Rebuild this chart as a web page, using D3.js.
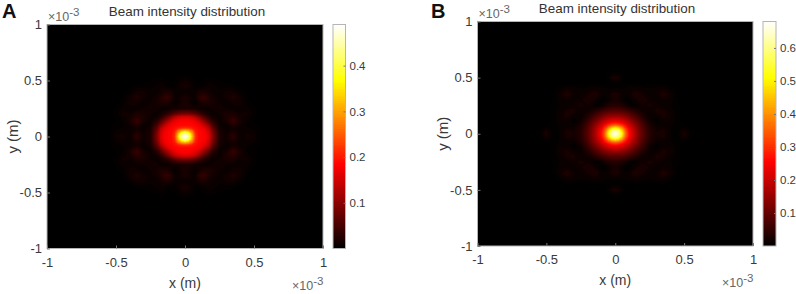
<!DOCTYPE html>
<html>
<head>
<meta charset="utf-8">
<script src="https://cdnjs.cloudflare.com/ajax/libs/d3/7.8.5/d3.min.js"></script>
<style>
  html, body { margin: 0; padding: 0; background: #fff; }
  svg { display: block; font-family: "Liberation Sans", Arial, sans-serif; }
  .domain { display: none; }
</style>
</head>
<body>
<svg id="chart" width="796" height="294"></svg>
<script>
var gridCoords = [0, 0.025, 0.05, 0.075, 0.1, 0.125, 0.15, 0.175, 0.2, 0.25, 0.3, 0.35, 0.4, 0.45, 0.5, 0.55];

var beamA = [
  [.49, .45, .33, .22, .19, .186, .18, .155, .10, .022, .012, .034, .008, .014, .012, .002],
  [.45, .41, .31, .215, .19, .186, .178, .152, .098, .022, .012, .03, .008, .013, .01, .002],
  [.33, .31, .27, .205, .19, .184, .172, .145, .09, .02, .01, .018, .008, .01, .008, .002],
  [.22, .215, .205, .195, .185, .176, .158, .128, .075, .017, .008, .016, .009, .008, .006, .002],
  [.19, .19, .19, .185, .178, .16, .135, .1, .058, .013, .008, .026, .012, .006, .004, .002],
  [.186, .186, .184, .176, .16, .135, .105, .072, .04, .01, .016, .04, .018, .006, .003, .001],
  [.18, .178, .172, .158, .135, .105, .078, .05, .027, .009, .02, .04, .018, .008, .003, .001],
  [.155, .152, .145, .128, .1, .072, .05, .03, .016, .009, .022, .03, .014, .01, .004, .001],
  [.09, .088, .082, .07, .055, .038, .026, .016, .01, .012, .02, .022, .012, .014, .005, .001],
  [.02, .02, .018, .015, .012, .009, .009, .01, .013, .016, .012, .01, .01, .01, .004, .001],
  [.022, .016, .008, .006, .013, .02, .024, .022, .018, .012, .007, .014, .014, .005, .002, .001],
  [.02, .016, .012, .012, .03, .04, .036, .024, .016, .01, .014, .024, .014, .003, .001, .001],
  [.008, .008, .008, .01, .018, .02, .018, .013, .01, .009, .013, .014, .006, .002, .001, .001],
  [.018, .016, .01, .004, .004, .006, .01, .012, .01, .005, .005, .004, .002, .001, .001, .001],
  [.012, .01, .006, .003, .002, .003, .005, .006, .004, .003, .002, .001, .001, .001, .001, .001],
  [.002, .002, .002, .001, .001, .001, .001, .001, .001, .001, .001, .001, .001, .001, .001, .001]
];

var beamB = [
  [.68, .63, .50, .36, .27, .215, .165, .125, .09, .04, .022, .026, .01, .004, .028, .004],
  [.63, .59, .47, .345, .262, .21, .162, .122, .088, .039, .021, .025, .01, .004, .024, .003],
  [.50, .47, .40, .31, .24, .197, .155, .117, .083, .036, .018, .02, .01, .004, .012, .002],
  [.36, .345, .31, .26, .21, .175, .14, .106, .075, .03, .012, .013, .011, .003, .003, .001],
  [.27, .262, .24, .21, .18, .15, .12, .092, .064, .022, .007, .012, .014, .004, .002, .001],
  [.215, .21, .197, .175, .15, .125, .1, .076, .052, .015, .005, .018, .016, .004, .001, .001],
  [.165, .162, .155, .14, .12, .1, .08, .059, .04, .012, .012, .024, .018, .005, .001, .001],
  [.125, .122, .117, .106, .092, .076, .059, .043, .028, .012, .02, .024, .018, .005, .001, .001],
  [.09, .088, .083, .075, .064, .052, .04, .028, .019, .015, .024, .024, .014, .005, .001, .001],
  [.042, .04, .034, .025, .012, .007, .007, .013, .02, .024, .02, .014, .01, .004, .001, .001],
  [.024, .02, .012, .005, .005, .012, .02, .026, .028, .02, .012, .016, .014, .003, .001, .001],
  [.03, .026, .016, .01, .012, .026, .03, .028, .022, .014, .016, .034, .018, .003, .001, .001],
  [.01, .01, .009, .011, .014, .017, .017, .014, .012, .01, .014, .018, .008, .002, .001, .001],
  [.006, .005, .003, .002, .002, .002, .003, .003, .002, .002, .002, .002, .001, .001, .001, .001],
  [.03, .024, .01, .002, .001, .001, .001, .001, .001, .001, .001, .001, .001, .001, .001, .001],
  [.003, .002, .002, .001, .001, .001, .001, .001, .001, .001, .001, .001, .001, .001, .001, .001]
];

var axisTicks = [-1, -0.5, 0, 0.5, 1];
var colorTicksA = [0.1, 0.2, 0.3, 0.4];
var colorTicksB = [0.1, 0.2, 0.3, 0.4, 0.5, 0.6];
var maxA = 0.49;
var maxB = 0.68;

var svg = d3.select("#chart");

// the quadrant mirrored into the full image, flat for d3.contours
function mirror(rows) {
  var n = rows.length;
  var flat = [];
  for (var j = -n + 1; j < n; j++) {
    for (var i = -n + 1; i < n; i++) {
      flat.push(rows[Math.abs(j)][Math.abs(i)]);
    }
  }
  return flat;
}

function drawPanel(p) {
  var g = svg.append("g");
  var x = d3.scaleLinear().domain([-1, 1]).range([p.left, p.right]);
  var y = d3.scaleLinear().domain([-1, 1]).range([p.bottom, p.top]);
  var n = gridCoords.length;

  // matlab "hot" colormap
  var hot = d3.scaleLinear()
    .domain([0, p.max * 0.375, p.max * 0.75, p.max])
    .range(["#000000", "#ff0000", "#ffff00", "#ffffff"])
    .clamp(true);

  g.append("rect")
    .attr("x", p.left).attr("y", p.top)
    .attr("width", p.right - p.left).attr("height", p.bottom - p.top)
    .attr("fill", "#000");

  // grid index -> position in data units (the grid is finer near the centre)
  var coords = gridCoords.slice(1).reverse().map(function(d) { return -d; }).concat(gridCoords);
  var indexToData = d3.scaleLinear().domain(d3.range(coords.length)).range(coords);

  var path = d3.geoPath(d3.geoTransform({
    point: function(a, b) {
      this.stream.point(x(indexToData(a - 0.5)), y(indexToData(b - 0.5)));
    }
  }));

  var levels = d3.range(0.003, p.max, p.max / 110);
  var contours = d3.contours()
    .size([2 * n - 1, 2 * n - 1])
    .thresholds(levels)(mirror(p.values));

  g.append("g").selectAll("path")
    .data(contours)
    .join("path")
    .attr("d", path)
    .attr("fill", function(d) { return hot(d.value); });

  // frame + ticks
  g.append("rect")
    .attr("x", p.left).attr("y", p.top)
    .attr("width", p.right - p.left).attr("height", p.bottom - p.top)
    .attr("fill", "none").attr("stroke", "#b5b5b5").attr("stroke-width", 1);

  var fmt = function(d) { return String(d); };
  var xAxis = g.append("g")
    .attr("transform", "translate(0," + p.bottom + ")")
    .call(d3.axisBottom(x).tickValues(axisTicks).tickFormat(fmt).tickSize(-3).tickPadding(9));
  var yAxis = g.append("g")
    .attr("transform", "translate(" + p.left + ",0)")
    .call(d3.axisLeft(y).tickValues(axisTicks).tickFormat(fmt).tickSize(-3).tickPadding(5));
  [xAxis, yAxis].forEach(function(a) {
    a.attr("font-family", null);
    a.selectAll("text").attr("font-size", 13).attr("fill", "#3a3a3a");
    a.selectAll("line").attr("stroke", "#777");
  });

  g.append("text")
    .attr("x", p.titleX).attr("y", p.titleY)
    .attr("text-anchor", "middle").attr("font-size", 13.4).attr("fill", "#333")
    .text("Beam intensity distribution");

  g.append("text")
    .attr("x", p.labelX).attr("y", p.labelY)
    .attr("font-size", 20).attr("font-weight", "bold").attr("fill", "#111")
    .text(p.label);

  g.append("text")
    .attr("x", (p.left + p.right) / 2).attr("y", p.bottom + 39)
    .attr("text-anchor", "middle").attr("font-size", 14).attr("fill", "#3a3a3a")
    .text("x (m)");

  g.append("text")
    .attr("transform", "translate(" + p.yLabelX + "," + (y(0)) + ") rotate(-90)")
    .attr("text-anchor", "middle").attr("font-size", 15).attr("fill", "#3a3a3a")
    .text("y (m)");

  // x10^-3 multipliers
  function multiplier(tx, ty) {
    var t = g.append("text").attr("x", tx).attr("y", ty)
      .attr("font-size", 12.5).attr("fill", "#666");
    t.append("tspan").text("\u00d710");
    t.append("tspan").attr("dy", -5).attr("font-size", 11.5).text("-3");
  }
  multiplier(p.left + 1, p.top - 4);
  multiplier(p.right - 31, p.bottom + 41);

  // colorbar
  var cy = d3.scaleLinear().domain([0, p.max]).range([p.bottom, p.top]);
  var step = p.max / 128;
  g.append("g").selectAll("rect")
    .data(d3.range(0, p.max, step))
    .join("rect")
    .attr("x", p.barLeft)
    .attr("width", p.barRight - p.barLeft)
    .attr("y", function(d) { return cy(d + step); })
    .attr("height", function(d) { return Math.min(cy(d) + 1, p.bottom) - cy(d + step); })
    .attr("shape-rendering", "crispEdges")
    .attr("fill", function(d) { return hot(d); });

  g.append("rect")
    .attr("x", p.barLeft).attr("y", p.top)
    .attr("width", p.barRight - p.barLeft).attr("height", p.bottom - p.top)
    .attr("fill", "none").attr("stroke", "#b5b5b5").attr("stroke-width", 1);

  var cAxis = g.append("g")
    .attr("transform", "translate(" + p.barRight + ",0)")
    .call(d3.axisRight(cy).tickValues(p.colorTicks).tickFormat(fmt).tickSize(-2).tickPadding(4));
  cAxis.attr("font-family", null);
  cAxis.selectAll("text").attr("font-size", 11.5).attr("fill", "#3a3a3a");
  cAxis.selectAll("line").attr("stroke", "#777");
}

drawPanel({
  values: beamA, max: maxA, colorTicks: colorTicksA, label: "A",
  left: 47, right: 323, top: 24.5, bottom: 248.5,
  barLeft: 333, barRight: 345.5,
  titleX: 187, titleY: 16, labelX: 2, labelY: 18, yLabelX: 18
});

drawPanel({
  values: beamB, max: maxB, colorTicks: colorTicksB, label: "B",
  left: 477.5, right: 753, top: 21.5, bottom: 246,
  barLeft: 763, barRight: 776,
  titleX: 617, titleY: 13, labelX: 431, labelY: 18, yLabelX: 448
});
</script>
</body>
</html>
